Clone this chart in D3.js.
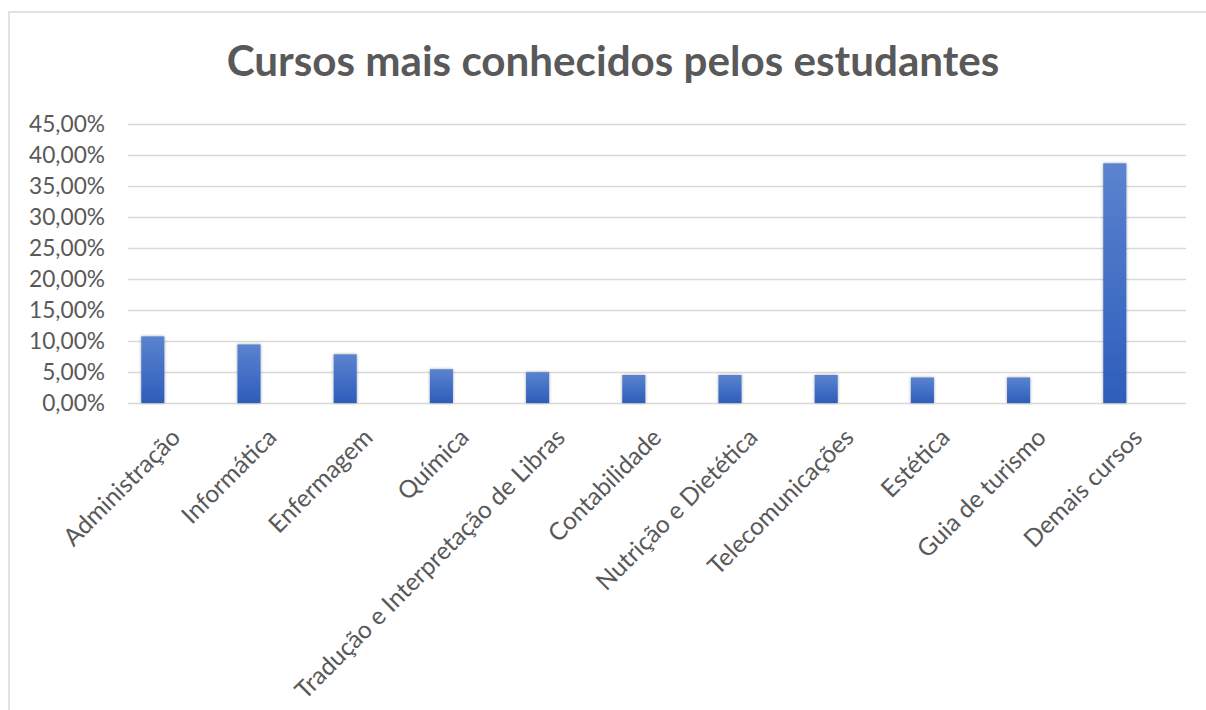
<!DOCTYPE html>
<html>
<head>
<meta charset="utf-8">
<script src="https://cdn.jsdelivr.net/npm/d3@7/dist/d3.min.js"></script>
<style>
  html, body { margin: 0; padding: 0; background: #fff; }
  svg { display: block; }
</style>
</head>
<body>
<svg id="chart" width="1206" height="710"></svg>
<script>
const categories = [
  "Administração", "Informática", "Enfermagem", "Química",
  "Tradução e Interpretação de Libras", "Contabilidade", "Nutrição e Dietética",
  "Telecomunicações", "Estética", "Guia de turismo", "Demais cursos"
];
const values = [0.1075, 0.0945, 0.0785, 0.0545, 0.0497, 0.0452, 0.0452, 0.0452, 0.0412, 0.0412, 0.3866];
const yTicks = [0, 0.05, 0.10, 0.15, 0.20, 0.25, 0.30, 0.35, 0.40, 0.45];
const title = "Cursos mais conhecidos pelos estudantes";

const FONT = "Lato, 'Open Sans', sans-serif";
const TEXT = "#595959";

const svg = d3.select("#chart");

const defs = svg.append("defs");
const grad = defs.append("linearGradient").attr("id", "barGrad")
  .attr("x1", 0).attr("y1", 0).attr("x2", 0).attr("y2", 1);
grad.append("stop").attr("offset", "0%").attr("stop-color", "#5b83cf");
grad.append("stop").attr("offset", "100%").attr("stop-color", "#2d5dbb");
const filt = defs.append("filter").attr("id", "shadow")
  .attr("x", "-50%").attr("y", "-10%").attr("width", "200%").attr("height", "120%");
filt.append("feDropShadow").attr("dx", 0).attr("dy", 0).attr("stdDeviation", 1.6)
  .attr("flood-color", "#000").attr("flood-opacity", 0.35);

// chart border
svg.append("rect").attr("x", 9).attr("y", 12).attr("width", 1220).attr("height", 720)
  .attr("fill", "none").attr("stroke", "#d9d9d9").attr("stroke-width", 1.5);

const y = d3.scaleLinear().domain([0, 0.45]).range([403, 124]);
const x = d3.scaleBand().domain(categories).range([104.7, 1162.9]).paddingInner(0.76).paddingOuter(0.38);

const gridX0 = 128, gridX1 = 1186;

const fmt = v => (v * 100).toFixed(2).replace(".", ",") + "%";
const yAxis = d3.axisLeft(y).tickValues(yTicks).tickFormat(fmt).tickSize(0).tickPadding(0);
const gY = svg.append("g").attr("transform", `translate(${gridX0},0)`).call(yAxis);
gY.select(".domain").remove();
gY.selectAll(".tick line").attr("x1", 0).attr("x2", gridX1 - gridX0)
  .attr("stroke", "#d9d9d9").attr("stroke-width", 1.6);
gY.selectAll(".tick text")
  .attr("x", 105 - gridX0)
  .attr("dy", "0.35em")
  .attr("fill", TEXT)
  .style("font-family", FONT)
  .style("font-size", "22px")
  .attr("text-anchor", "end");

(function(){
  const t = gY.selectAll(".tick text").filter(d => d === 0.45).node();
  const w = t.getComputedTextLength();
  const fs = 22 * 76 / w;
  gY.selectAll(".tick text").style("font-size", fs + "px");
})();

// bars
svg.append("g").selectAll("rect").data(values).join("rect")
  .attr("x", (d, i) => x(categories[i]))
  .attr("width", x.bandwidth())
  .attr("y", d => y(d))
  .attr("height", d => y(0) - y(d))
  .attr("fill", "url(#barGrad)")
  .attr("filter", "url(#shadow)");

// x labels via axis
const xAxis = d3.axisBottom(x).tickSize(0).tickPadding(0);
const gX = svg.append("g").attr("transform", `translate(0,${y(0)})`).call(xAxis);
gX.select(".domain").remove();
gX.selectAll(".tick text")
  .attr("y", 0).attr("dy", 0)
  .attr("text-anchor", "end")
  .attr("fill", TEXT)
  .style("font-family", FONT)
  .style("font-size", "22px")
  .attr("transform", "translate(29,36) rotate(-45)");
(function(){
  const t = gX.selectAll(".tick text").filter(d => d === categories[4]).node();
  const w = t.getComputedTextLength();
  const fs = 22 * 370 / w;
  gX.selectAll(".tick text").style("font-size", fs + "px");
})();

// title
const tt = svg.append("text")
  .attr("x", 613).attr("y", 76)
  .attr("text-anchor", "middle")
  .attr("fill", TEXT)
  .style("font-family", FONT)
  .style("font-weight", "bold")
  .style("font-size", "36px")
  .text(title);
(function(){
  const w = tt.node().getComputedTextLength();
  tt.style("font-size", (36 * 773 / w) + "px");
})();
</script>
</body>
</html>
